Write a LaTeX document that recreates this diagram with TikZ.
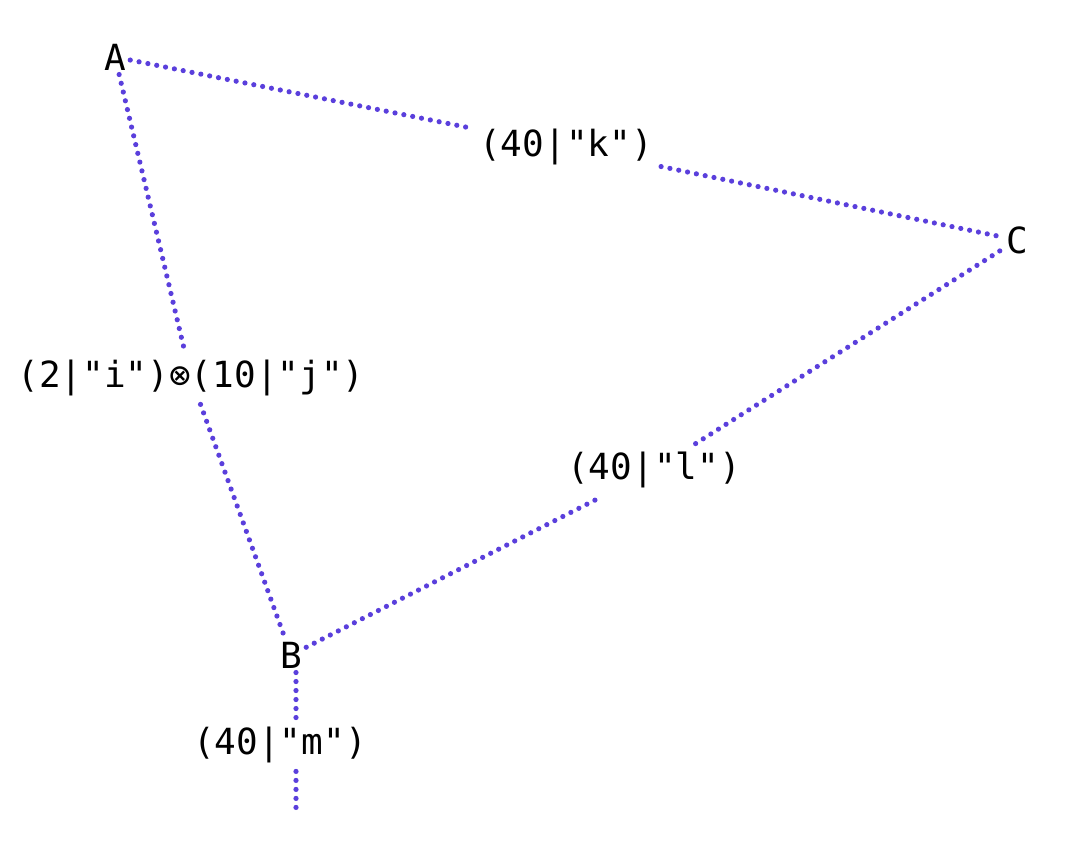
\documentclass[tikz,border=0pt]{standalone}
\usepackage{fontspec}
\setmonofont{DejaVu Sans Mono}
\usetikzlibrary{positioning}
\definecolor{wirepurple}{HTML}{5A3FDC}
\tikzset{
  vtx/.style   ={font=\fontsize{18}{21}\selectfont\ttfamily, inner sep=2pt, text=black},
  wlabel/.style={font=\fontsize{18}{21}\selectfont\ttfamily, inner sep=4pt, text=black},
  wire/.style  ={draw=wirepurple, line width=2.6pt, line cap=round,
                 dash pattern=on 0pt off 4.5pt},
}
\begin{document}
\begin{tikzpicture}[x=0.5pt, y=-0.5pt]
\useasboundingbox (0,0) rectangle (1080,852);

% ------------------------------------------------------------- vertices
\node[vtx] (A) at (115,57)  {A};
\node[vtx] (B) at (291,655) {B};
\node[vtx] (C) at (1017,240) {C};

% ------------------------------------------------------------- edge labels
\node[wlabel] (lk)  at (566,147) {(40|"k")};
\node[wlabel] (lij) at (191,378) {(2|"i")⊗(10|"j")};
\node[wlabel] (ll)  at (654,470) {(40|"l")};
\node[wlabel] (lm)  at (280,745) {(40|"m")};
\coordinate (mend) at (296,810);

% ------------------------------------------------------------- wires
\draw[wire] (A) -- (lk);
\draw[wire] (lk) -- (C);
\draw[wire] (A) -- (lij);
\draw[wire] (lij) -- (B);
\draw[wire] (B) -- (ll);
\draw[wire] (ll) -- (C);
\draw[wire] (B.south -| mend) -- (lm.north -| mend);
\draw[wire] (lm.south -| mend) -- (mend);

\end{tikzpicture}
\end{document}
